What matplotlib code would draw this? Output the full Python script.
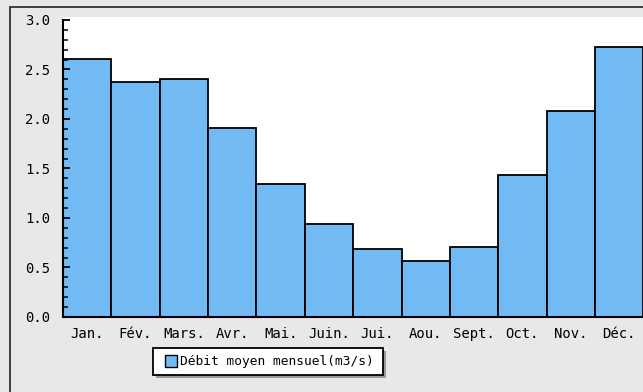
import matplotlib
matplotlib.use("Agg")
import matplotlib.pyplot as plt
from matplotlib.patches import Rectangle
from matplotlib.ticker import MultipleLocator

months = ["Jan.", "Fév.", "Mars.", "Avr.", "Mai.", "Juin.", "Jui.", "Aou.",
          "Sept.", "Oct.", "Nov.", "Déc."]
debit = [2.61, 2.37, 2.40, 1.91, 1.34, 0.94, 0.69, 0.57, 0.71, 1.43, 2.08, 2.73]
series_label = "Débit moyen mensuel(m3/s)"

W, H, DPI = 643, 392, 100
bar_color = "#72baf3"
bg = "#e8e8ea"
mono = "DejaVu Sans Mono"

fig = plt.figure(figsize=(W / DPI, H / DPI), dpi=DPI, facecolor=bg)


def px_rect(x0, y0, x1, y1, **kw):
    """Rectangle given in pixel coordinates measured from the top-left corner."""
    r = Rectangle((x0 / W, 1 - y1 / H), (x1 - x0) / W, (y1 - y0) / H,
                  transform=fig.transFigure, **kw)
    fig.patches.append(r)
    return r


# outer frame of the chart panel
px_rect(10, 7, W + 40, H + 40, fill=False, edgecolor="#222222", linewidth=1.2)

left_px, right_px = 63, 643.4
bottom_px, top_px = 317, 17
ax = fig.add_axes([left_px / W, (H - bottom_px) / H,
                   (right_px - left_px) / W, (bottom_px - top_px) / H])
ax.set_facecolor("white")

x = range(len(months))
bars = ax.bar(x, debit, width=1.0, color=bar_color, edgecolor="black",
              linewidth=1.3, label=series_label)

yticks = [0.0, 0.5, 1.0, 1.5, 2.0, 2.5, 3.0]
ax.set_xlim(-0.5, len(months) - 0.5)
ax.set_ylim(0, 3.03)
ax.yaxis.set_minor_locator(MultipleLocator(0.1))
ax.set_yticks(yticks)
ax.set_yticklabels(["%.1f" % v for v in yticks])
ax.set_xticks(list(x))
ax.set_xticklabels(months)

for s in ["top", "right"]:
    ax.spines[s].set_visible(False)
ax.spines["left"].set_bounds(0, 3.0)
ax.spines["left"].set_linewidth(1.5)
ax.spines["bottom"].set_linewidth(1.5)

ax.tick_params(axis="y", which="major", direction="in", length=5, width=1.3,
               pad=9, labelsize=10, labelfontfamily=mono)
ax.tick_params(axis="y", which="minor", direction="in", length=3.5, width=1.1)
ax.tick_params(axis="x", which="both", length=0, pad=15, labelsize=10,
               labelfontfamily=mono)
for lab in ax.get_xticklabels():
    lab.set_verticalalignment("baseline")

# legend box with drop shadow
px_rect(155.5, 351, 385.5, 378, facecolor="#9a9a9c", edgecolor="none")
px_rect(152.5, 348, 382.5, 375, facecolor="white", edgecolor="black",
        linewidth=1.3)
px_rect(165, 355, 177, 367, facecolor=bar_color, edgecolor="black",
        linewidth=1.0)
fig.text(179.5 / W, 1 - 361.5 / H, series_label, family=mono, fontsize=9.3,
         ha="left", va="center")

fig.savefig("out.png", dpi=DPI, facecolor=bg)
